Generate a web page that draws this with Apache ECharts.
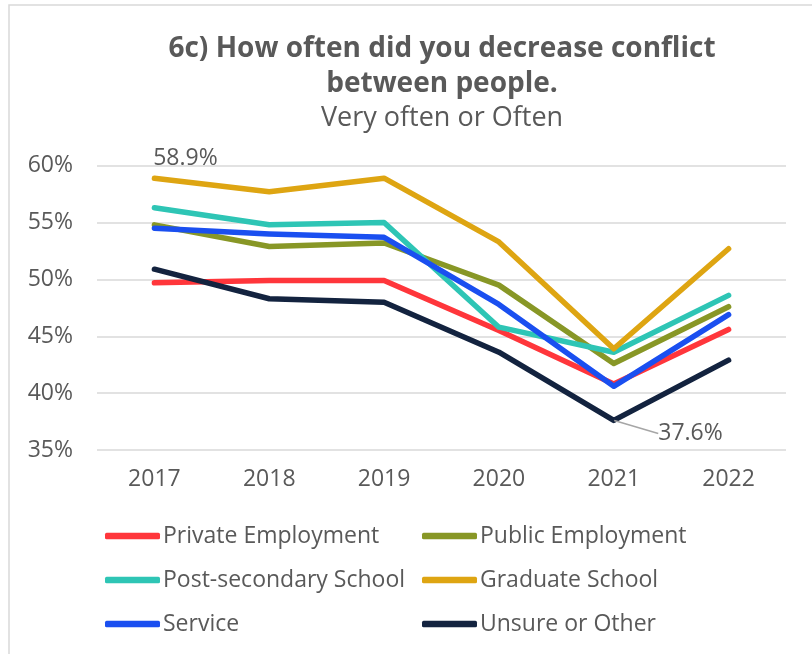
<!DOCTYPE html>
<html>
<head>
<meta charset="utf-8">
<script src="https://cdn.jsdelivr.net/npm/echarts@6/dist/echarts.min.js"></script>
<style>
html,body{margin:0;padding:0;background:#fff;}
#chart{width:812px;height:654px;}
</style>
</head>
<body>
<div id="chart"></div>
<script>
const years = ['2017','2018','2019','2020','2021','2022'];
const privateEmployment = [49.7, 49.9, 49.9, 45.5, 40.8, 45.6];
const publicEmployment = [54.8, 52.9, 53.2, 49.5, 42.6, 47.6];
const postSecondary = [56.3, 54.8, 55.0, 45.8, 43.6, 48.6];
const graduateSchool = [58.9, 57.7, 58.9, 53.3, 43.9, 52.7];
const service = [54.5, 54.0, 53.7, 47.8, 40.6, 46.9];
const unsureOther = [50.9, 48.3, 48.0, 43.6, 37.6, 42.9];
const seriesNames = ['Private Employment','Public Employment','Post-secondary School','Graduate School','Service','Unsure or Other'];
const seriesColors = ['#FF363B','#889726','#2EC5B5','#DEA512','#1A4FF0','#13233F'];

const txt = '#595959';
const FONT = 'Open Sans';
const chart = echarts.init(document.getElementById('chart'));

function mk(name, data, color, extra) {
  return Object.assign({
    name: name,
    type: 'line',
    data: data,
    symbol: 'none',
    color: color,
    lineStyle: { width: 5.5, color: color, cap: 'round', join: 'round' },
    emphasis: { disabled: true },
    animation: false
  }, extra || {});
}

function labelled(arr, idx, labelOpt) {
  return arr.map((v, i) => i === idx ? {
    value: v,
    symbol: 'circle',
    symbolSize: 1,
    itemStyle: { color: 'rgba(0,0,0,0)', borderWidth: 0 },
    label: Object.assign({ show: true,
      formatter: (p) => Number(p.value).toFixed(1) + '%', fontSize: 23, color: txt, fontFamily: FONT }, labelOpt)
  } : v);
}

const gradData = labelled(graduateSchool, 0, { position: 'top', distance: 4, offset: [31, -4] });
const unsureData = labelled(unsureOther, 4, { position: 'right', distance: 4 });

const legendCommon = {
  orient: 'vertical',
  top: 523,
  padding: 0,
  itemWidth: 55,
  itemHeight: 6.5,
  itemGap: 18,
  icon: 'roundRect',
  textStyle: { fontSize: 23, color: txt, fontFamily: FONT, lineHeight: 26, padding: [0,0,0,-2] },
  selectedMode: false
};

chart.setOption({
  backgroundColor: '#fff',
  animation: false,
  graphic: [{
    type: 'rect', shape: { x: 9, y: 5, width: 830, height: 700 },
    style: { fill: 'none', stroke: '#d9d9d9', lineWidth: 1.5 }, silent: true
  }],
  title: [{
    text: '6c) How often did you decrease conflict\nbetween people.',
    left: 437, textAlign: 'center', top: 27,
    textStyle: { fontSize: 28, fontWeight: 'bold', color: txt, fontFamily: FONT, lineHeight: 35 }
  }, {
    text: 'Very often or Often',
    left: 437, textAlign: 'center', top: 100,
    textStyle: { fontSize: 27, fontWeight: 'normal', color: txt, fontFamily: FONT }
  }],
  legend: [
    Object.assign({}, legendCommon, { left: 105, data: [seriesNames[0], seriesNames[2], seriesNames[4]] }),
    Object.assign({}, legendCommon, { left: 422, data: [seriesNames[1], seriesNames[3], seriesNames[5]] })
  ],
  grid: { left: 97, right: 26, top: 165.7, bottom: 204, containLabel: false },
  xAxis: {
    type: 'category',
    data: years,
    boundaryGap: true,
    axisLine: { show: false },
    axisTick: { show: false },
    axisLabel: { fontSize: 23, color: txt, fontFamily: FONT, margin: 18 }
  },
  yAxis: {
    type: 'value',
    min: 35, max: 60, interval: 5,
    axisLine: { show: false },
    axisTick: { show: false },
    axisLabel: { fontSize: 23, color: txt, fontFamily: FONT, margin: 24, formatter: '{value}%' },
    splitLine: { lineStyle: { color: '#d9d9d9', width: 1.5 } }
  },
  series: [
    mk(seriesNames[0], privateEmployment, seriesColors[0]),
    mk(seriesNames[1], publicEmployment, seriesColors[1]),
    mk(seriesNames[2], postSecondary, seriesColors[2]),
    mk(seriesNames[3], gradData, seriesColors[3]),
    mk(seriesNames[4], service, seriesColors[4]),
    mk(seriesNames[5], unsureData, seriesColors[5], {
      labelLayout: { dx: 40, dy: 13 },
      labelLine: { show: true, lineStyle: { color: '#a6a6a6', width: 1.5 } }
    })
  ]
});
</script>
</body>
</html>
